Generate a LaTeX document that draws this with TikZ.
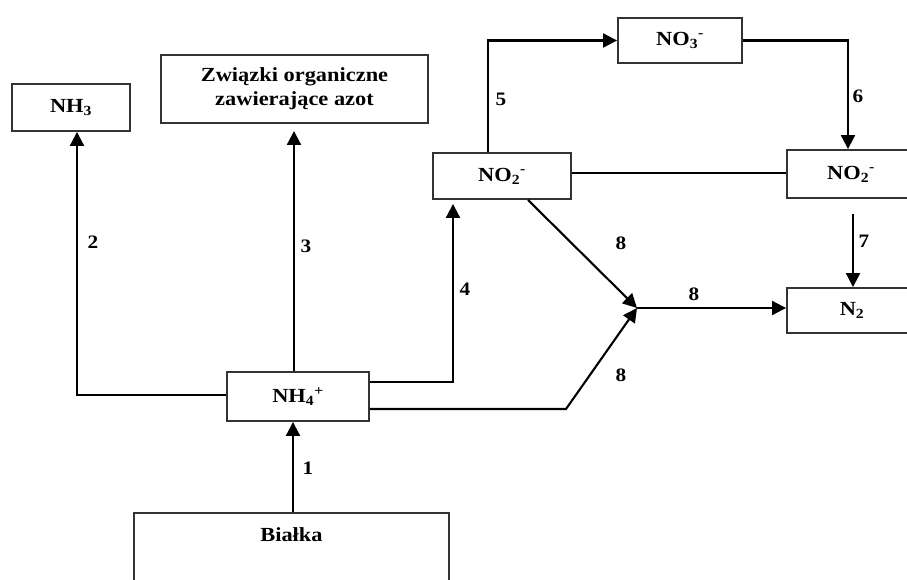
\documentclass[tikz,border=0pt]{standalone}
\usepackage{fontspec}
\setmainfont[FakeStretch=1.12]{Liberation Serif}
\usetikzlibrary{arrows.meta}
\begin{document}
\begin{tikzpicture}[x=1pt,y=-1pt,
  box/.style={draw=black!80, line width=1.9pt, fill=white, inner sep=0pt,
    font=\bfseries\fontsize{20}{24}\selectfont},
  txt/.style={font=\bfseries\fontsize{20}{24}\selectfont},
  arr/.style={line width=2.1pt, -{Triangle[length=14pt,width=14pt]}},
  ln/.style={line width=2.1pt},
  num/.style={font=\bfseries\fontsize{19}{20}\selectfont}]
\useasboundingbox (0,0) rectangle (907,579);
% boxes
\node[box, minimum width=118pt, minimum height=47pt] (nh3) at (71,107.5) {NH\textsubscript{3}};
\node[box, minimum width=267pt, minimum height=68pt, align=center] (zw) at (294.5,89) {Związki organiczne\\zawierające azot};
\node[box, minimum width=138pt, minimum height=46pt] (no2a) at (502,176) {NO\textsubscript{2}\textsuperscript{-}};
\node[box, minimum width=124pt, minimum height=45pt] (no3) at (680,40.5) {NO\textsubscript{3}\textsuperscript{-}};
\node[box, minimum width=128pt, minimum height=48pt] (no2b) at (851,174) {NO\textsubscript{2}\textsuperscript{-}};
\node[box, minimum width=130pt, minimum height=45pt] (n2) at (852,310.5) {N\textsubscript{2}};
\node[box, minimum width=142pt, minimum height=49pt] (nh4) at (298,396.5) {NH\textsubscript{4}\textsuperscript{+}};
\node[box, minimum width=315pt, minimum height=100pt, anchor=north] (bialka) at (291.5,512) {};
\node[txt] (bialkat) at (291.5,535) {Białka};
% helper coordinates
\coordinate (m) at (0,173);
\coordinate (s7) at (853,214);
\coordinate (j) at (637,308);
\coordinate (k) at (566,409);
% connectors
\draw[arr] ([xshift=1.5pt]bialka.north) -- ([xshift=-5pt]nh4.south);
\draw[arr] ([yshift=1.5pt]nh4.west) -| ([xshift=6pt]nh3.south);
\draw[arr, shorten >=7pt] ([xshift=-4pt]nh4.north) -- ([xshift=-4pt]nh4.north |- zw.south);
\draw[arr, shorten >=4pt] ([yshift=14.5pt]nh4.east) -| ([xshift=-49pt]no2a.south);
\draw[arr] ([xshift=-14pt]no2a.north) |- (no3.west);
\draw[arr] (no3.east) -| ([xshift=-3pt]no2b.north);
\draw[ln] (no2a.east |- m) -- (no2b.west |- m);
\draw[arr] (s7) -- (s7 |- n2.north);
\draw[arr] ([xshift=26pt]no2a.south) -- (j);
\draw[arr] (nh4.east |- k) -- (k) -- (j);
\draw[arr] (j) -- (j -| n2.west);
% labels
\node[num] at (308,468) {1};
\node[num] at (93,242) {2};
\node[num] at (306,246) {3};
\node[num] at (465,289) {4};
\node[num] at (501,99) {5};
\node[num] at (858,96) {6};
\node[num] at (864,241) {7};
\node[num] at (621,243) {8};
\node[num] at (694,294) {8};
\node[num] at (621,375) {8};
\end{tikzpicture}
\end{document}
